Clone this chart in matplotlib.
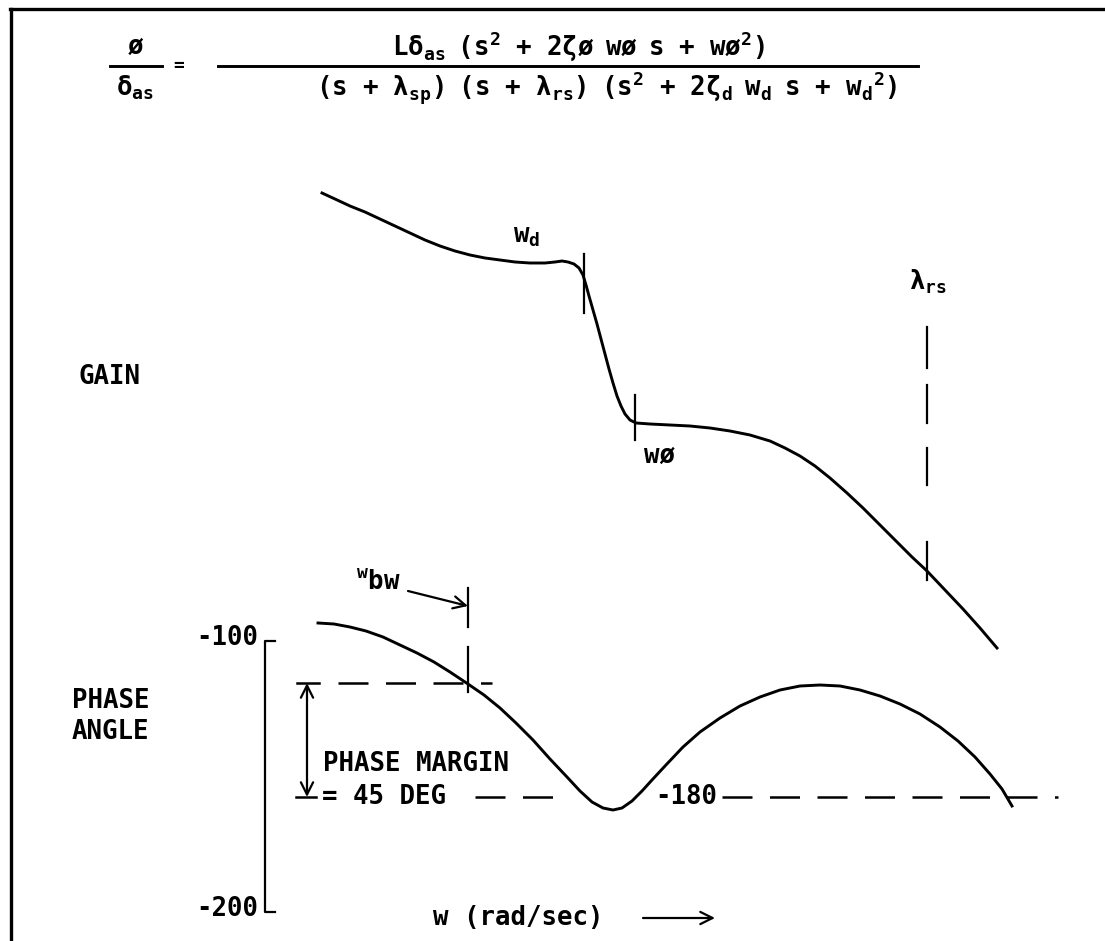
import matplotlib
matplotlib.use("Agg")
import matplotlib.pyplot as plt

plt.rcParams["font.family"] = "DejaVu Sans Mono"
plt.rcParams["font.weight"] = "bold"
plt.rcParams["mathtext.fontset"] = "custom"
plt.rcParams["mathtext.rm"] = "DejaVu Sans Mono:bold"
plt.rcParams["mathtext.it"] = "DejaVu Sans Mono:bold"
plt.rcParams["mathtext.bf"] = "DejaVu Sans Mono:bold"
plt.rcParams["mathtext.default"] = "rm"

# sketch coordinates (x to the right, y downwards)
gain_x = [322, 335, 350, 365, 380, 395, 410, 425, 440, 455, 470, 485, 500, 515,
          530, 545, 555, 562, 568, 574, 579, 583, 586, 589, 593, 597, 601, 605,
          609, 613, 617, 621, 625, 630, 636, 650, 670, 690, 710, 730, 750, 770,
          785, 800, 815, 830, 847, 863, 880, 897, 912, 927, 945, 963, 980, 997]
gain_y = [193, 199, 206, 212, 219, 226, 233, 240, 246, 251, 255, 258, 260, 262,
          263, 263, 262, 261, 262, 264, 268, 275, 285, 296, 310, 324, 339, 354,
          369, 383, 396, 406, 414, 420, 423, 424, 425, 426, 428, 431, 435, 441,
          448, 456, 466, 478, 493, 508, 525, 542, 557, 571, 590, 609, 628, 648]

phase_x = [318, 334, 350, 366, 383, 400, 417, 434, 450, 468, 484, 500, 516, 533,
           550, 567, 580, 592, 603, 613, 622, 632, 642, 652, 665, 683, 700, 720,
           740, 760, 780, 800, 820, 840, 860, 880, 900, 920, 940, 958, 975, 990,
           1002, 1012]
phase_y = [623, 624, 627, 631, 637, 645, 653, 662, 672, 684, 695, 708, 723, 740,
           759, 777, 791, 802, 808, 810, 808, 801, 791, 780, 766, 747, 732, 718,
           706, 697, 690, 686, 685, 686, 690, 696, 704, 714, 727, 741, 757, 774,
           789, 806]

phase_tick_labels = ["-100", "-200"]
phase_tick_y = [641, 912]
margin_y = 683      # phase at the bandwidth frequency
crossover_y = 797   # -180 deg line
w_bw, w_d, w_phi, lam_rs = 468, 584, 635, 927

fig = plt.figure(figsize=(11.05, 9.41), dpi=100)
ax = fig.add_axes([0, 0, 1, 1])
ax.set_xlim(0, 1105)
ax.set_ylim(941, 0)
ax.axis("off")

lw = 2.1
fs = 18.5
sp = r"\enspace\;"

# page border
ax.plot([10, 1105], [9, 9], color="black", lw=2.4, clip_on=False)
ax.plot([11, 11], [9, 941], color="black", lw=2.4, clip_on=False)

# transfer function
ax.text(135, 47, "ø", ha="center", va="center", fontsize=fs)
ax.plot([110, 162], [66, 66], color="black", lw=lw)
ax.text(179, 66, "=", ha="center", va="center", fontsize=fs * 0.7)
ax.text(135, 88, r"$\delta_{as}$", ha="center", va="center", fontsize=fs)
num = (r"$L\delta_{as}" + sp + r"(s^2" + sp + "+" + sp + r"2\zeta ø" + sp +
       "wø" + sp + "s" + sp + "+" + sp + r"wø^2)$")
den = (r"$(s" + sp + "+" + sp + r"\lambda_{sp})" + sp + "(s" + sp + "+" + sp +
       r"\lambda_{rs})" + sp + r"(s^2" + sp + "+" + sp + r"2\zeta_d" + sp +
       r"w_d" + sp + "s" + sp + "+" + sp + r"w_d{}^2)$")
ax.text(578, 47, num, ha="center", va="center", fontsize=fs)
ax.plot([218, 918], [66, 66], color="black", lw=lw)
ax.text(607, 88, den, ha="center", va="center", fontsize=fs)

# gain curve
ax.plot(gain_x, gain_y, color="black", lw=lw)
ax.plot([w_d, w_d], [254, 313], color="black", lw=1.6)
ax.text(527, 236, r"$w_d$", ha="center", va="center", fontsize=fs)
ax.plot([w_phi, w_phi], [395, 440], color="black", lw=1.6)
ax.text(659, 456, "wø", ha="center", va="center", fontsize=fs)
for y0, y1 in [(327, 368), (385, 423), (448, 485), (542, 580)]:
    ax.plot([lam_rs, lam_rs], [y0, y1], color="black", lw=1.6)
ax.text(928, 282, r"$\lambda_{rs}$", ha="center", va="center", fontsize=fs)
ax.text(78, 377, "GAIN", ha="left", va="center", fontsize=fs)

# phase curve
ax.plot(phase_x, phase_y, color="black", lw=lw)
ax.text(72, 701, "PHASE", ha="left", va="center", fontsize=fs)
ax.text(72, 732, "ANGLE", ha="left", va="center", fontsize=fs)

# phase scale bracket
ax.plot([275, 265, 265, 275], [phase_tick_y[0], phase_tick_y[0],
                               phase_tick_y[1], phase_tick_y[1]],
        color="black", lw=1.6)
for lab, y in zip(phase_tick_labels, phase_tick_y):
    ax.text(258, y - 3, lab, ha="right", va="center", fontsize=fs)

# bandwidth marker
ax.plot([w_bw, w_bw], [588, 627], color="black", lw=1.6)
ax.plot([w_bw, w_bw], [647, 692], color="black", lw=1.6)
ax.annotate("", xy=(w_bw, 606), xytext=(408, 591),
            arrowprops=dict(arrowstyle="->", lw=1.6, color="black",
                            mutation_scale=22, shrinkA=0, shrinkB=0))
ax.text(378, 582, r"$^{w}bw$", ha="center", va="center", fontsize=fs)

# phase margin
ax.plot([338, 492], [margin_y, margin_y], color="black", lw=1.8,
        dashes=(12, 7))
ax.plot([297, 319], [margin_y, margin_y], color="black", lw=1.8)
ax.plot([296, 316], [crossover_y, crossover_y], color="black", lw=1.8)
ax.annotate("", xy=(307, margin_y), xytext=(307, crossover_y),
            arrowprops=dict(arrowstyle="<->", lw=1.6, color="black",
                            mutation_scale=22, shrinkA=0, shrinkB=0))
ax.text(323, 764, "PHASE MARGIN", ha="left", va="center", fontsize=fs)
ax.text(322, 797, "= 45 DEG", ha="left", va="center", fontsize=fs)

# -180 line
ax.plot([475, 565], [crossover_y, crossover_y], color="black", lw=1.8,
        dashes=(12, 7))
ax.plot([722, 1058], [crossover_y, crossover_y], color="black", lw=1.8,
        dashes=(12, 7))
ax.text(686, 797, "-180", ha="center", va="center", fontsize=fs)

# frequency axis label
ax.text(433, 918, "w (rad/sec)", ha="left", va="center", fontsize=fs)
ax.annotate("", xy=(715, 918), xytext=(643, 918),
            arrowprops=dict(arrowstyle="->", lw=1.6, color="black",
                            mutation_scale=22, shrinkA=0, shrinkB=0))

fig.savefig("out.png", dpi=100)
